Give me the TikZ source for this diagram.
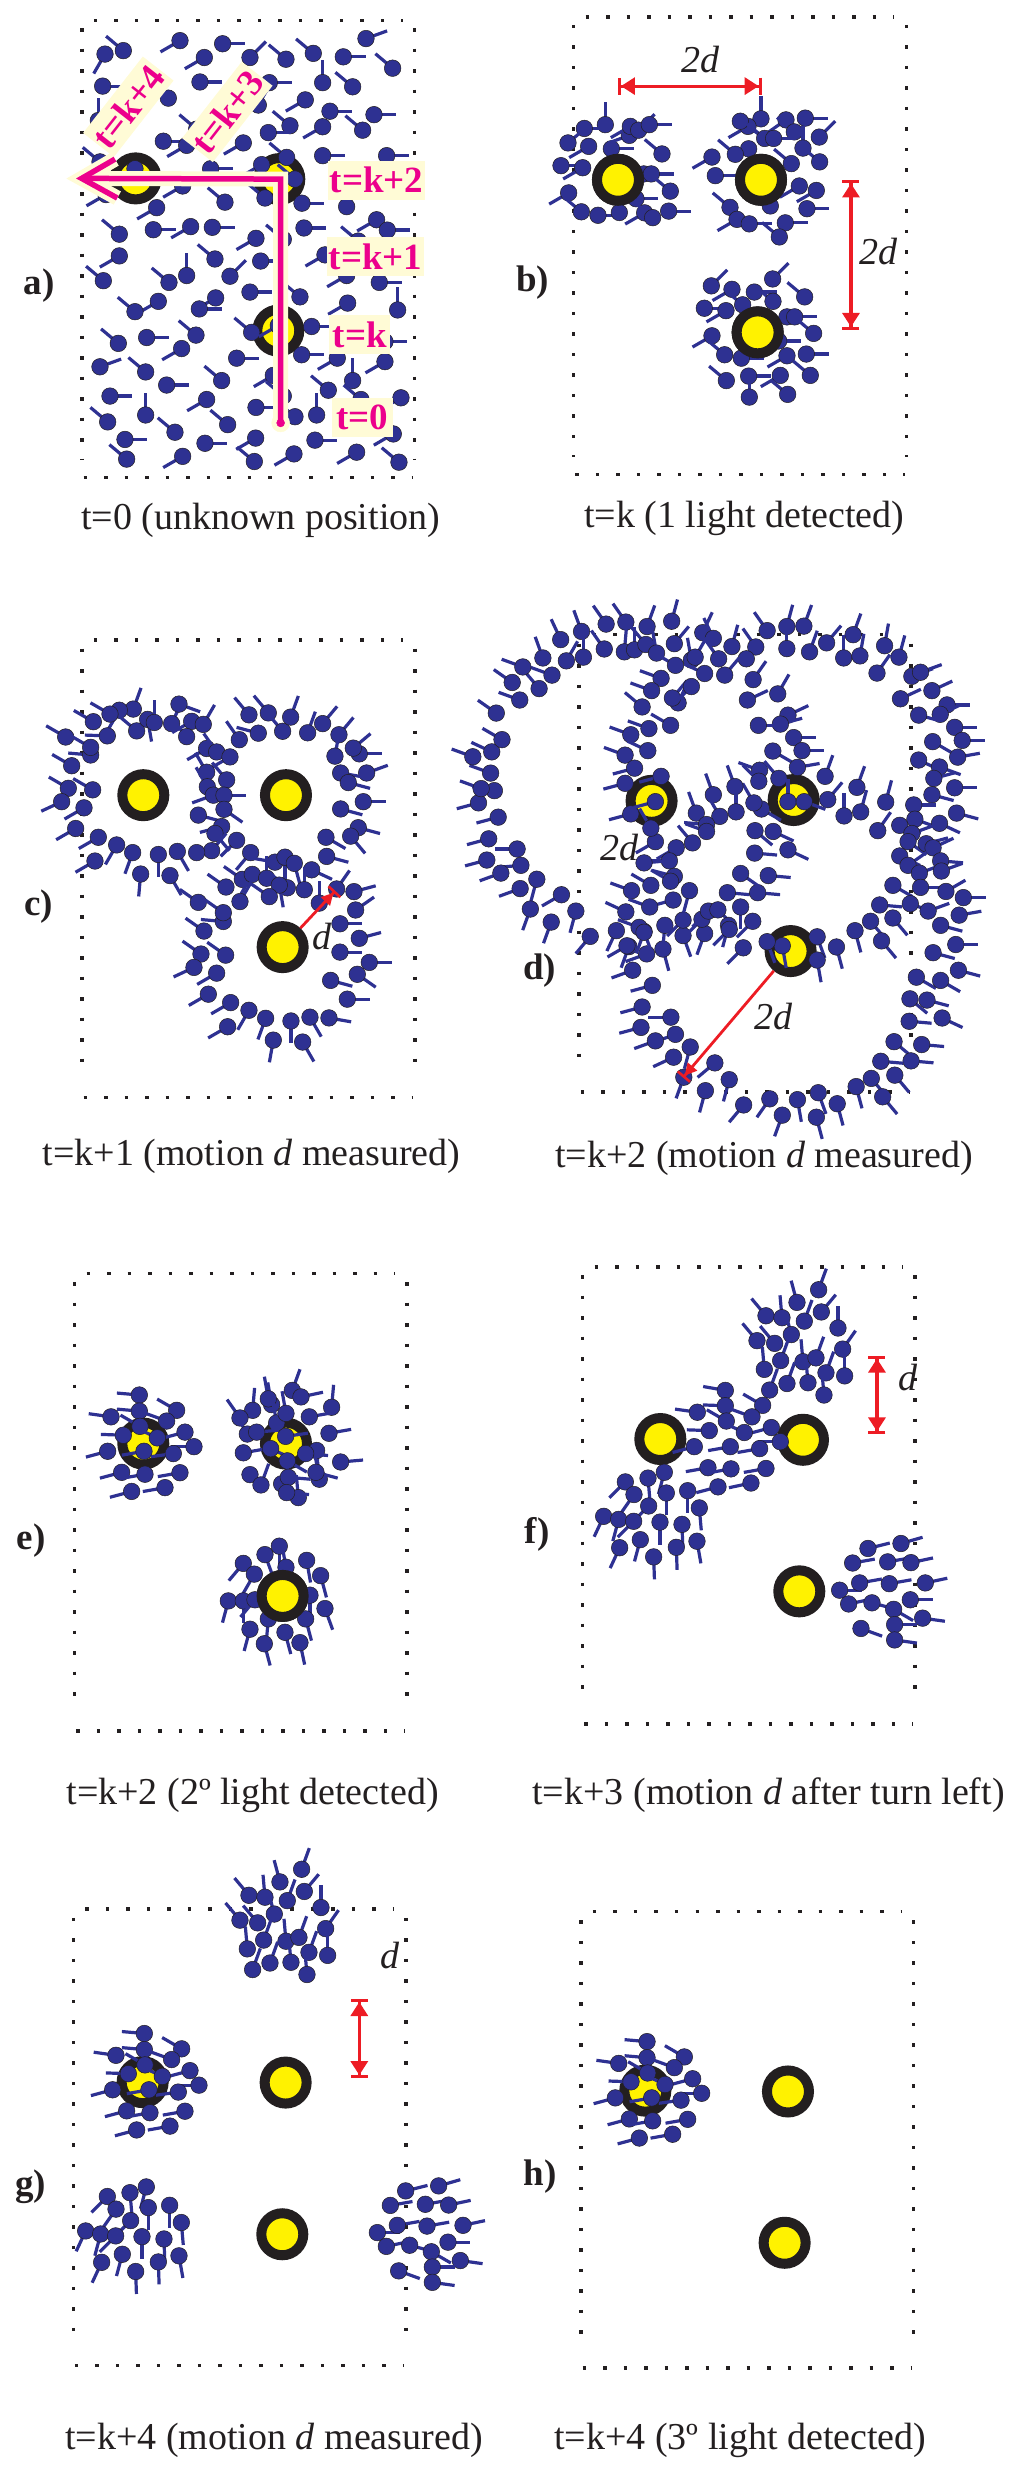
\documentclass[tikz,border=0pt]{standalone}
\usepackage{fontspec}
\setmainfont{Liberation Serif}
\usetikzlibrary{arrows.meta, positioning, calc}

\definecolor{robotblue}{HTML}{2E3192}
\definecolor{lampyellow}{HTML}{FFF200}
\definecolor{lampdark}{HTML}{231F20}
\definecolor{dimred}{HTML}{ED1C24}
\definecolor{pathpink}{HTML}{EC008C}
\definecolor{pathcream}{HTML}{FFFBD6}

\newcommand{\robots}[1]{\foreach \px/\py/\ang in {#1}{
        \draw[stick] (\px,\py) -- ++(\ang:22.5pt);
        \filldraw[body] (\px,\py) circle (8.3pt);}}
\newcommand{\dotframe}[4]{
        \draw[dotline] (#1+36,#2) -- (#3-36,#2);
        \draw[dotline] (#1+5,#4) -- (#3-5,#4);
        \draw[dotline] (#1,#2+22) -- (#1,#4-50);
        \draw[dotline] (#3,#2+22) -- (#3,#4-50);}

% swarms that come back in more than one panel
\newcommand{\leftswarm}{\robots{418/405/175, 530/445/150, 333/462/172, 418/447/175, 500/473/160, 420/487/150,
        555/502/195, 370/510/178, 472/517/155, 582/540/180, 520/558/188, 432/552/190, 323/552/195,
        365/607/195, 435/612/190, 540/608/190, 395/657/195, 495/647/190}}
\newcommand{\topswarm}{\robots{920/130/70, 855/163/105, 928/188/50, 762/198/130, 810/203/95, 877/212/70,
        838/247/105, 978/230/90, 735/263/130, 788/270/130, 992/285/55, 806/315/70, 873/318/95, 912/308/70,
        757/338/95, 942/347/70, 998/355/90, 825/375/70, 888/373/95, 773/392/70, 936/405/95}}
\newcommand{\midswarm}{\robots{640/393/170, 752/432/150, 640/433/178, 556/450/172, 720/462/160, 643/473/150,
        778/490/195, 592/498/178, 697/503/155, 805/527/180, 743/545/190, 655/540/190, 547/540/195,
        588/595/190, 657/598/190, 762/597/190, 618/645/195, 717/635/192}}
\newcommand{\lowswarm}{\robots{457/607/255, 408/622/-85, 340/632/225, 366/665/235, 463/661/-90, 527/655/-90,
        410/695/225, 562/700/-85, 275/722/245, 320/730/255, 365/735/225, 444/737/-90, 510/743/-88,
        385/783/255, 555/787/-80, 323/804/245, 493/803/-88, 425/828/-88}}
\newcommand{\rightswarm}{\robots{1068/806/14, 1167/793/16, 1022/844/10, 1127/841/10, 1197/843/12, 983/915/0,
        1043/896/10, 1132/898/10, 1240/896/12, 1010/951/12, 1080/948/-15, 1195/940/0, 1145/965/-30,
        1232/988/-8, 1148/1005/0, 1047/1015/-20, 1148/1045/-8}}

\begin{document}
\begin{tikzpicture}
        [stick/.style={draw=robotblue, line width=3.2pt},
        body/.style={fill=robotblue, draw=lampdark, line width=0.5pt},
        dotline/.style={draw=lampdark, line width=3.5pt, dash pattern=on 3.5pt off 17pt},
        lamp/.style={circle, fill=lampyellow, draw=lampdark, line width=10pt, minimum size=42pt, inner sep=0pt},
        captiontext/.style={text=lampdark, inner sep=0pt, font=\fontsize{38}{40}\selectfont},
        panelname/.style={text=lampdark, inner sep=0pt, font=\fontsize{37}{40}\selectfont\bfseries},
        lengthname/.style={text=lampdark, inner sep=0pt, font=\fontsize{38}{40}\selectfont\itshape},
        timelabel/.style={fill=pathcream, text=pathpink, inner sep=0pt, minimum width=97pt, minimum height=39pt, font=\fontsize{37}{40}\selectfont\bfseries},
        shorttime/.style={timelabel, minimum width=61pt},
        pathhalo/.style={draw=pathcream, line width=15pt},
        pathline/.style={draw=pathpink, line width=5.5pt},
        bothends/.style={draw=dimred, line width=3.2pt, {Bar[width=17pt,line width=3pt]Triangle[length=14pt,width=17pt,sep=0pt]}-{Triangle[length=14pt,width=17pt,sep=0pt]Bar[width=17pt,line width=3pt]}},
        oneend/.style={draw=dimred, line width=2.8pt, -{Triangle[length=12pt,width=12pt,sep=0pt]Bar[width=16pt,line width=2.6pt]}},
        zoomA/.style={x=0.3333pt, y=-0.3444pt},
        zoomC/.style={x=0.3333pt, y=-0.3827pt},
        zoomD/.style={x=0.3788pt, y=-0.4082pt},
        zoomG/.style={x=0.3333pt, y=-0.4056pt}]
        \useasboundingbox (0,0) rectangle (1024pt,-2476pt);

        % a) unknown position
        \begin{scope}[zoomA]
        \dotframe{246}{60}{1244}{1386}
        \node[lamp] (a1) at (407,518) {};
        \node[lamp] (a2) at (838,520) {};
        \node[lamp] (a3) at (835,960) {};
        \robots{370/147/140, 315/157/240, 540/118/210, 668/127/0, 613/167/210, 750/167/45, 858/172/140, 940/155/140,
                1098/112/20, 1030/165/0, 1178/198/140, 968/240/90, 1058/252/140, 600/238/0, 308/250/0, 808/240/0,
                505/285/120, 775/305/60, 916/290/210, 990/323/0, 1122/333/0, 870/365/140, 805/385/0, 968/368/210,
                1088/378/140, 295/350/90, 590/375/140, 490/410/0, 560/422/210, 730/415/210, 860/457/140, 968/452/0,
                1160/452/0, 785/478/210, 632/490/0, 885/520/140, 405/490/210, 548/540/210, 795/575/140, 675/587/140,
                906/590/0, 1040/600/90, 470/603/210, 318/565/210, 300/470/140, 358/680/140, 460/667/0, 572/658/210,
                637/660/0, 912/662/0, 1130/638/210, 1162/668/0, 768/692/210, 850/695/140, 1075/700/140, 358/743/210,
                645/752/140, 782/758/0, 975/740/210, 310/815/140, 560/800/90, 507/820/140, 690/802/45, 1040/800/210,
                1138/820/0, 750/848/0, 900/862/140, 475/875/210, 405/905/140, 647/865/210, 598/897/0, 1043/880/210,
                1193/900/90, 755/965/140, 935/948/0, 835/945/210, 588/973/140, 355/997/140, 440/980/0, 1155/992/0,
                545/1012/210, 710/1040/0, 905/1030/0, 1012/1040/210, 300/1065/20, 437/1080/140, 1058/1105/90,
                1155/1050/210, 665/1105/140, 500/1118/0, 820/1090/210, 985/1133/140, 330/1150/0, 1203/1155/210,
                1083/1160/140, 437/1205/90, 620/1160/210, 768/1183/0, 850/1150/140, 885/1210/140, 950/1205/90,
                323/1225/140, 683/1233/140, 525/1255/140, 375/1276/0, 615/1287/0, 767/1272/210, 945/1278/0,
                1180/1260/210, 1070/1313/210, 380/1333/140, 763/1340/140, 1197/1342/140, 882/1318/210, 548/1325/210}
        \node[panelname] (aname) at (118,830) {a)};
        \node[captiontext] (acap) at (782,1510) {t=0 (unknown position)};
        \node[timelabel, rotate=52] (tk4) at (385,310) {t=k+4};
        \node[timelabel, rotate=52] (tk3) at (682,325) {t=k+3};
        \node[timelabel] (tk2) at (1130,523) {t=k+2};
        \node[timelabel] (tk1) at (1127,745) {t=k+1};
        \node[shorttime] (tk) at (1080,972) {t=k};
        \node[shorttime] (t0) at (1087,1213) {t=0};
        \coordinate (aStart) at (842,1228);
        \coordinate (aTurn) at (842,520);
        \coordinate (aEnd) at (245,518);
        \coordinate (aArmUp) at (345,462);
        \coordinate (aArmDown) at (352,575);
        \filldraw[draw=pathcream, fill=pathcream] (aStart) circle (9pt);
        \draw[pathhalo] (aStart) -- (aTurn) -- (aEnd);
        \draw[pathhalo] (aArmUp) -- (aEnd) -- (aArmDown);
        \draw[pathline] (aStart) -- (aTurn) -- (aEnd);
        \draw[pathline] (aArmUp) -- (aEnd) -- (aArmDown);
        \filldraw[draw=pathpink, fill=pathpink] (aStart) circle (4pt);
        \end{scope}

        % b) one light detected
        \begin{scope}[shift={(512pt,0pt)}, zoomA]
        \dotframe{185}{50}{1183}{1377}
        \node[lamp] (b1) at (318,522) {};
        \node[lamp] (b2) at (747,522) {};
        \node[lamp] (b3) at (737,965) {};
        \robots{280/362/90, 217/373/0, 168/415/40, 230/425/210, 298/432/0, 352/393/200, 355/367/210, 380/378/45, 412/362/0,
                450/447/140, 147/481/0, 212/487/210, 395/505/0, 418/505/0, 475/555/140, 170/560/210, 372/577/0,
                208/615/140, 258/625/0, 322/617/90, 398/618/210, 422/632/140, 470/613/0}
        \robots{747/345/90, 708/367/210, 685/352/-35, 822/348/215, 880/343/0, 847/383/140, 758/402/140, 785/402/0,
                922/398/45, 873/430/90, 923/470/140, 710/432/210, 670/448/140, 838/475/140, 600/456/210, 610/510/0,
                862/540/210, 913/553/210, 885/606/0, 775/598/90, 654/602/140, 675/637/210, 712/650/0, 820/647/0, 802/688/140}
        \robots{598/830/45, 782/810/45, 660/840/210, 878/862/140, 727/848/0, 783/875/140, 692/885/140, 577/895/0,
                642/902/210, 825/920/0, 848/920/0, 905/968/140, 600/975/210, 800/990/0, 638/1030/140, 688/1040/0,
                883/1028/0, 825/1033/210, 895/1090/140, 643/1105/140, 710/1092/0, 805/1090/210, 712/1153/90, 827/1145/140}
        \node[lamp, fill=lampyellow] (b1top) at (318,522) {};
        \node[lamp, fill=lampyellow] (b2top) at (747,522) {};
        \node[lamp, fill=lampyellow] (b3top) at (737,965) {};
        \coordinate (bLeft) at (318,250);
        \coordinate (bRight) at (749,250);
        \coordinate (bUp) at (1017,524);
        \coordinate (bDown) at (1017,958);
        \path (bLeft) edge[bothends] (bRight)
              (bUp) edge[bothends] (bDown);
        \node[lengthname] (bw) at (567,172) {2d};
        \node[lengthname] (bh) at (1100,730) {2d};
        \node[panelname] (bname) at (62,820) {b)};
        \node[captiontext] (bcap) at (697,1505) {t=k (1 light detected)};
        \end{scope}

        % c) motion d measured
        \begin{scope}[shift={(0pt,-600pt)}, zoomC]
        \dotframe{246}{105}{1245}{1300}
        \node[lamp] (c1) at (430,510) {};
        \node[lamp] (c2) at (858,510) {};
        \node[lamp] (c3) at (848,907) {};
        \robots{400/285/70, 358/288/240, 330/298/150, 280/318/150, 197/358/150, 322/355/178, 272/405/175, 272/385/150,
                215/433/150, 205/492/150, 278/496/150, 185/527/205, 252/543/210, 227/597/210, 295/620/210, 285/682/210,
                350/640/240, 398/660/250, 422/716/265, 475/665/270, 532/657/300, 510/720/300, 410/342/140, 443/312/280,
                463/320/90, 515/323/65, 537/272/-20, 575/317/210, 560/357/130, 610/325/60, 620/388/210, 650/397/125,
                718/365/125, 690/410/210, 775/348/165, 747/300/130, 805/295/130, 848/343/130, 872/306/70, 923/347/70,
                968/323/50, 1017/352/50, 1005/408/80, 1078/402/0, 1060/387/40, 1100/452/20, 1022/452/-10, 1045/477/-15,
                1090/527/0, 1022/546/-15, 1075/595/-15, 1052/617/-50, 978/620/-30, 980/670/-15, 935/705/-25,
                620/450/120, 622/488/120, 680/470/130, 640/510/200, 672/510/0, 672/547/-35, 595/562/-15, 665/592/195,
                645/610/-50, 710/628/225, 635/655/50, 590/660/10, 752/660/230, 825/685/170, 855/672/-90, 883/688/-75,
                678/750/145, 727/730/145, 757/717/240, 800/727/90, 913/757/90, 862/752/140, 838/745/-80, 808/775/145,
                720/788/60, 958/792/90, 1010/755/55, 1062/762/15, 1067/810/35, 595/790/145, 670/840/175, 670/817/145,
                1020/846/0, 1078/884/15, 612/865/145, 1020/920/0, 603/925/145, 677/928/145, 1108/947/0, 582/960/205,
                650/975/210, 992/994/-15, 1072/978/-35, 1042/1043/0, 625/1030/210, 692/1052/210, 747/1072/240,
                797/1093/250, 683/1115/210, 873/1100/-90, 930/1090/-60, 987/1092/-10, 820/1150/-100, 908/1155/-60}
        \coordinate (cTip) at (1006,760);
        \path (c3) edge[oneend] (cTip);
        \node[lengthname] (cd) at (965,880) {d};
        \node[panelname] (cname) at (116,800) {c)};
        \node[captiontext] (ccap) at (755,1455) {t=k+1 (motion \textit{d} measured)};
        \end{scope}

        % d) motion d measured, three rings
        \begin{scope}[shift={(430pt,-560pt)}, zoomD]
        \dotframe{393}{183}{1270}{1303}
        \node[lamp] (d1) at (585,590) {};
        \node[lamp] (d2) at (960,588) {};
        \node[lamp] (d3) at (952,958) {};
        \robots{400/175/110, 345/195/115, 298/240/110, 360/247/60, 405/238/90, 460/218/125, 465/157/125, 517/152/125,
                513/225/85, 540/220/90, 573/163/70, 638/150/75, 570/207/130, 598/228/100, 645/205/50, 720/178/65,
                748/192/115, 690/245/100, 700/238/60, 762/242/125, 797/212/75, 860/213/125, 835/242/55, 890/173/125,
                942/163/75, 987/162/70, 942/217/90, 1002/225/70, 1047/203/50, 1117/183/70, 1092/240/90, 1135/235/80,
                1200/210/80, 1238/238/75, 1180/277/55, 1272/285/20, 1295/275/20, 1325/320/25, 1242/340/25, 1365/355/0,
                1347/378/25, 1290/380/-15, 1385/410/0, 1405/442/0, 1327/445/-30, 1393/483/10, 1290/490/-25, 1345/507/-20,
                1330/535/15, 1385/558/0, 1325/575/-15, 1390/620/-15, 1277/600/0, 1280/635/-20, 1240/650/-20, 1345/645/-25,
                1272/670/20, 1262/690/-35, 1310/695/15, 1328/705/25, 1240/725/-25, 1262/748/35, 1348/737/-5, 1292/767/20,
                1350/762/20, 1222/797/-30, 1295/802/0, 1362/812/30, 1408/827/0, 1268/842/-20, 1187/845/-5, 1315/860/20,
                1397/870/10, 1348/895/-15, 1163/885/-50, 1222/877/-50, 1122/908/-75, 1192/933/-50, 1073/948/-75,
                1388/942/0, 1328/962/-15, 1395/1005/-15, 1284/1022/-30, 1348/1030/-30, 1267/1075/-40, 1312/1078/-15,
                1352/1122/-25, 1265/1130/-5, 1225/1180/-40, 1298/1187/-5, 1270/1227/-5, 1190/1228/-5, 1227/1262/-50,
                1165/1270/-50, 1125/1290/-75, 1195/1315/-50, 1075/1332/-75, 1025/1305/-70, 1020/1365/-75, 970/1322/-80,
                930/1360/250, 897/1320/235, 828/1335/230, 790/1273/-105, 727/1300/-105, 752/1232/220, 670/1267/-110,
                687/1193/-105, 643/1218/205, 648/1162/200, 636/1120/180, 595/1178/200, 557/1145/195, 560/1095/195,
                587/1042/195, 535/1005/200, 572/965/200, 525/947/250, 565/910/-70, 615/953/-75, 620/895/-95, 668/920/-70,
                725/915/-110, 668/882/225, 718/880/225, 735/860/225, 760/857/-45, 788/895/255, 790/905/225, 820/850/-90,
                852/885/225, 827/950/225, 785/815/-5, 865/815/-5, 820/768/-35, 893/773/-5, 857/718/-5, 945/710/-25,
                858/663/-40, 906/665/-25, 875/610/-30, 855/595/120, 870/515/160, 868/542/135, 905/468/-30, 960/435/0,
                982/467/0, 970/508/10, 921/535/130, 1043/530/70, 945/380/25, 925/402/15, 867/405/0, 838/343/25, 853/293/55,
                918/328/60, 1127/557/70, 1050/587/50, 1093/627/90, 1137/617/75, 1203/593/75, 1182/663/55}
        \robots{805/555/110, 748/575/110, 703/620/110, 765/628/120, 808/617/90, 730/648/175, 730/665/160, 693/693/130,
                650/705/210, 632/737/180, 565/742/5, 595/690/210, 583/657/120, 645/775/165, 635/787/150, 583/797/150,
                532/810/160, 685/810/255, 642/833/195, 580/850/160, 517/862/155, 492/908/245, 552/900/160, 565/912/250,
                520/945/210, 423/922/230, 385/860/255, 320/887/250, 347/820/210, 282/782/255, 265/855/250, 240/748/185,
                238/805/200, 230/708/180, 187/767/200, 150/735/195, 155/683/195, 180/630/195, 128/595/195, 170/565/170,
                135/560/160, 160/522/160, 113/482/160, 163/470/155, 190/440/150, 175/375/145, 237/343/160, 288/315/130,
                322/282/160, 217/300/145, 245/262/160, 610/290/160, 585/320/160, 560/360/140, 578/413/160, 635/405/150,
                530/428/160, 575/467/155, 515/478/160, 540/510/195, 515/547/195, 530/622/195, 655/350/65, 640/338/50,
                690/310/225, 648/258/150, 725/278/155, 778/282/50, 610/530/195, 595/592/195, 945/592/90, 988/592/-20,
                930/945/-80, 1022/923/-70, 1022/980/-80, 890/935/-70}
        \coordinate (dTip) at (668,1268);
        \path (d3) edge[oneend] (dTip);
        \node[lengthname] (dleft) at (500,705) {2d};
        \node[lengthname] (dlow) at (908,1118) {2d};
        \node[panelname] (dname) at (290,1005) {d)};
        \node[captiontext] (dcap) at (882,1465) {t=k+2 (motion \textit{d} measured)};
        \end{scope}

        % e) second light detected
        \begin{scope}[shift={(0pt,-1240pt)}, zoomC]
        \dotframe{224}{88}{1221}{1283}
        \node[lamp] (e1) at (430,532) {};
        \node[lamp] (e2) at (858,532) {};
        \node[lamp] (e3) at (848,930) {};
        \leftswarm
        \robots{877/393/70, 815/430/100, 805/415/100, 903/410/12, 758/445/85, 720/465/125, 995/437/85, 830/478/100,
                858/453/100, 928/462/10, 742/507/120, 770/502/5, 987/505/10, 857/513/8, 730/556/10, 812/545/-25,
                950/550/-85, 917/558/-5, 862/577/-30, 1022/580/5, 750/613/-40, 783/640/70, 958/625/100, 948/607/-15,
                845/637/70, 865/620/-5, 895/673/95, 860/660/-5}
        \robots{838/800/-90, 795/822/-70, 920/837/-80, 730/845/230, 763/873/240, 962/877/-75, 858/855/100, 685/943/255,
                730/943/-90, 765/940/230, 930/928/-90, 975/963/-70, 805/990/-95, 917/990/-75, 750/1017/255, 855/1025/-75,
                793/1055/-75, 900/1052/-78}
        \node[lamp] (e3top) at (848,930) {};
        \node[panelname] (ename) at (93,785) {e)};
        \node[captiontext] (ecap) at (758,1450) {t=k+2 (2º light detected)};
        \end{scope}

        % f) turn left
        \begin{scope}[shift={(512pt,-1240pt)}, zoomC]
        \dotframe{212}{70}{1209}{1264}
        \node[lamp] (f1) at (445,520) {};
        \node[lamp] (f2) at (873,522) {};
        \node[lamp] (f3) at (862,918) {};
        \topswarm
        \midswarm
        \lowswarm
        \rightswarm
        \coordinate (fUp) at (1095,302);
        \coordinate (fDown) at (1095,508);
        \path (fUp) edge[bothends] (fDown);
        \node[lengthname] (fd) at (1187,358) {d};
        \node[panelname] (fname) at (75,770) {f)};
        \node[captiontext] (fcap) at (770,1450) {t=k+3 (motion \textit{d} after turn left)};
        \end{scope}

        % g) motion d measured again
        \begin{scope}[shift={(0pt,-1840pt)}, zoomG]
        \dotframe{220}{170}{1218}{1296}
        \node[lamp] (g1) at (428,597) {};
        \node[lamp] (g2) at (857,598) {};
        \node[lamp] (g3) at (847,972) {};
        \coordinate (gUp) at (1078,392);
        \coordinate (gDown) at (1078,587);
        \path (gUp) edge[bothends] (gDown);
        \node[lengthname] (gd) at (1170,285) {d};
        \node[panelname] (gname) at (92,855) {g)};
        \node[captiontext] (gcap) at (822,1480) {t=k+4 (motion \textit{d} measured)};
        \end{scope}
        \begin{scope}[shift={(5pt,-1878.5pt)}, zoomC]
        \leftswarm
        \end{scope}
        \begin{scope}[shift={(-5pt,-1819.5pt)}, zoomC]
        \topswarm
        \end{scope}
        \begin{scope}[shift={(-6pt,-1954.6pt)}, zoomC]
        \lowswarm
        \end{scope}
        \begin{scope}[shift={(49.7pt,-1882.4pt)}, zoomC]
        \rightswarm
        \end{scope}

        % h) third light detected
        \begin{scope}[shift={(512pt,-1840pt)}, zoomG]
        \dotframe{207}{176}{1205}{1302}
        \node[lamp] (h1) at (400,618) {};
        \node[lamp] (h2) at (828,620) {};
        \node[lamp] (h3) at (818,993) {};
        \node[panelname] (hname) at (84,830) {h)};
        \node[captiontext] (hcap) at (685,1480) {t=k+4 (3º light detected)};
        \end{scope}
        \begin{scope}[shift={(507.7pt,-1886.6pt)}, zoomC]
        \leftswarm
        \end{scope}
\end{tikzpicture}
\end{document}
